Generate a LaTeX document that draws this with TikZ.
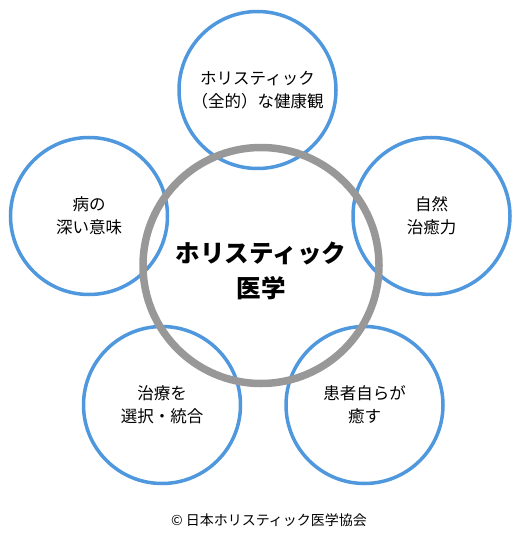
\documentclass[tikz,border=0pt]{standalone}
\usepackage{fontspec}
\setmainfont{Noto Sans CJK JP}
\usepackage{xcolor}
\definecolor{ColRing}{RGB}{80,152,222}
\definecolor{ColHub}{RGB}{152,152,152}
\usepackage{tikz}
\tikzstyle{Ring}=[circle,draw=ColRing,line width=3.5pt,minimum size=157pt,
inner sep=0pt,align=center,font=\fontsize{16.5}{23}\selectfont]
\tikzstyle{Hub}=[circle,draw=ColHub,line width=7.5pt,minimum size=236pt,
inner sep=0pt,align=center]
\tikzstyle{HubText}=[align=center,font=\fontsize{24.5}{35}\selectfont\bfseries]
\tikzstyle{NoteST}=[font=\fontsize{14}{16}\selectfont]

\begin{document}
\begin{tikzpicture}[x=1pt,y=-1pt]
        \useasboundingbox(0,0)rectangle(520,537);
        \node[Ring](1)at(257.5,90.0){ホリスティック\\（全的）な健康観};
        \node[Ring](2)at(431.5,216.0){自然\\治癒力};
        \node[Ring](3)at(364.5,405.0){患者自らが\\癒す};
        \node[Ring](4)at(162.0,405.0){治療を\\選択・統合};
        \node[Ring](5)at(89.0,216.0){病の\\深い意味};
        \node[Hub](0)at(261.0,265.5){};
        \node[HubText](c)at(261.0,271.0){ホリスティック\\医学};
        \node[NoteST](n)at(269.0,520.0){© 日本ホリスティック医学協会};
    \end{tikzpicture}
\end{document}
